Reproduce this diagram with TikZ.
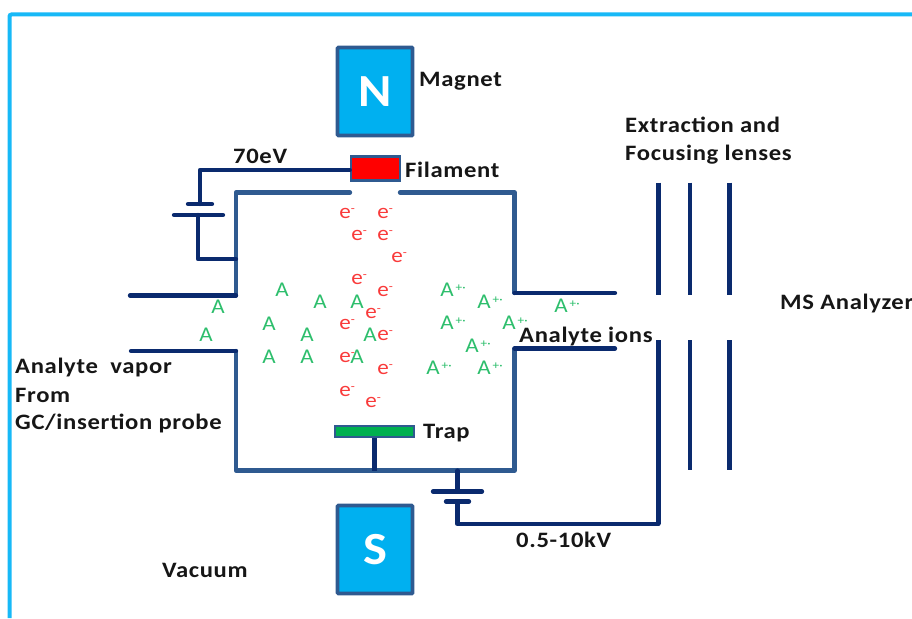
\documentclass[tikz,border=0pt]{standalone}
\usepackage{fontspec}
\setmainfont{Carlito}[LetterSpace=3,FakeStretch=1.12]
\newfontfamily\partfont{Carlito}[FakeStretch=1.1]
\definecolor{framecyan}{HTML}{17B9F7}
\definecolor{magnetblue}{HTML}{00B0F0}
\definecolor{wallblue}{HTML}{2F5A90}
\definecolor{wirenavy}{HTML}{0A2A6E}
\definecolor{trapgreen}{HTML}{00B050}
\definecolor{iongreen}{HTML}{2DBE6C}
\definecolor{elecred}{HTML}{F93A3A}
\definecolor{labelblack}{HTML}{161616}
\tikzset{
  lbl/.style={font=\fontsize{22}{26}\selectfont\bfseries,text=labelblack,anchor=west,inner sep=0pt,align=left},
  magnetbox/.style={draw=wallblue,line width=3.6pt,fill=magnetblue,rounded corners=0.8pt,inner sep=0pt,text=white,font=\partfont\fontsize{46}{46}\selectfont\bfseries},
  platebox/.style={draw=wallblue,line width=2.6pt,inner sep=0pt},
  wall/.style={draw=wallblue,line width=4.3pt,line cap=round,line join=round},
  wire/.style={draw=wirenavy,line width=4.3pt,line cap=round,line join=round},
  neutral/.style={text=iongreen,inner sep=0pt,font=\partfont\fontsize{21}{21}\selectfont},
  electron/.style={text=elecred,inner sep=0pt,font=\partfont\fontsize{21}{21}\selectfont},
}
\newcommand{\upsmall}[1]{\rlap{\raisebox{5.5pt}{\fontsize{12}{12}\selectfont #1}}}
\begin{document}
\begin{tikzpicture}[x=1pt,y=-1pt]
\useasboundingbox (0,0) rectangle (912,618);
% frame
\coordinate (fa) at (9.5,618); \coordinate (fb) at (9.5,14.5); \coordinate (fc) at (912,14.5);
\draw[framecyan,line width=4pt,rounded corners=2pt] (fa) -- (fb) -- (fc);
% magnets, filament, trap
\node[magnetbox,minimum width=75pt,minimum height=88pt] (north) at (375,91.5) {N};
\node[magnetbox,minimum width=75pt,minimum height=88pt] (south) at (375,549.5) {S};
\node[platebox,fill=red,minimum width=49pt,minimum height=23.5pt] (filament) at (375.5,168.5) {};
\node[platebox,fill=trapgreen,minimum width=79pt,minimum height=11pt] (trap) at (374.5,431.5) {};
% chamber
\coordinate (c1) at (350,192.5); \coordinate (c2) at (236,192.5); \coordinate (c3) at (236,295.5);
\coordinate (c4) at (236,351); \coordinate (c5) at (236,470.5); \coordinate (c6) at (514.5,470.5);
\coordinate (c7) at (514.5,348.5); \coordinate (c8) at (514.5,293); \coordinate (c9) at (514.5,192.5);
\coordinate (c10) at (400,192.5);
\draw[wall] (c1) -- (c2) -- (c3);
\draw[wall] (c4) -- (c5) -- (c6) -- (c7);
\draw[wall] (c8) -- (c9) -- (c10);
% ports
\coordinate (p1) at (130,295.5); \coordinate (p2) at (131,351); \coordinate (p3) at (615,293); \coordinate (p4) at (615,348.5);
\draw[wire] (p1) -- (c3);
\draw[wire] (p2) -- (c4);
\draw[wire] (c8) -- (p3);
\draw[wire] (c7) -- (p4);
% 70 eV supply
\coordinate (w1) at (200,170); \coordinate (w2) at (200,204); \coordinate (b1l) at (188,204); \coordinate (b1r) at (212,204);
\coordinate (b2l) at (174,215); \coordinate (b2r) at (223,215); \coordinate (w3) at (198,215); \coordinate (w4) at (198,259); \coordinate (w5) at (236,259);
\draw[wire] (filament.west |- w1) -- (w1) -- (w2);
\draw[wire] (b1l) -- (b1r);
\draw[wire] (b2l) -- (b2r);
\draw[wire] (w3) -- (w4) -- (w5);
% trap stem
\draw[wire,line cap=butt] (trap.south) -- (trap.south |- c5);
% lower supply
\coordinate (s1) at (457.5,470.5); \coordinate (s2) at (457.5,491.5); \coordinate (s3l) at (433,491.5); \coordinate (s3r) at (482,491.5);
\coordinate (s4l) at (446,501.5); \coordinate (s4r) at (469,501.5); \coordinate (s5) at (457.5,501.5); \coordinate (s6) at (457.5,524);
\coordinate (l1a) at (658.5,182.5); \coordinate (l1b) at (658.5,295); \coordinate (l1c) at (658.5,340); \coordinate (l1d) at (658.5,524);
\coordinate (l2a) at (690,182.5); \coordinate (l2b) at (690,295); \coordinate (l2c) at (690,340); \coordinate (l2d) at (690,470);
\coordinate (l3a) at (729.5,182.5); \coordinate (l3b) at (729.5,295); \coordinate (l3c) at (729.5,340); \coordinate (l3d) at (729.5,470);
\draw[wire] (s1) -- (s2);
\draw[wire] (s3l) -- (s3r);
\draw[wire] (s4l) -- (s4r);
\draw[wire] (s5) -- (s6) -- (l1d);
\draw[wire,line cap=butt] (l1d) -- (l1c);
\draw[wire,line cap=butt] (l1a) -- (l1b);
\draw[wire,line cap=butt] (l2a) -- (l2b);
\draw[wire,line cap=butt] (l2c) -- (l2d);
\draw[wire,line cap=butt] (l3a) -- (l3b);
\draw[wire,line cap=butt] (l3c) -- (l3d);
% particles
\foreach \x/\y [count=\i] in {345/213,383/213,357/235,383/235,397/257,357/279,383/291,371/313,345/324,383/335,345/357,383/369,345/391,371/402}
  \node[electron] (e\i) at (\x,\y) {e\upsmall{-}};
\foreach \x/\y [count=\i] in {218/307,282/290,320/302,357/302,206/335,269/324,307/335,370/335,269/357,307/357,357/357}
  \node[neutral] (a\i) at (\x,\y) {A};
\foreach \x/\y [count=\i] in {447/290,484/302,561/306,447/323,509/323,472/346,484/368,433/368}
  \node[neutral] (ion\i) at (\x,\y) {A\upsmall{\,+·}};
% labels
\node[lbl] (lmag) at (419,81) {Magnet};
\node[lbl] (lfil) at (405,170) {Filament};
\node[lbl] (l70) at (233,156) {70eV};
\node[lbl] (lext) at (625,125) {Extraction and};
\node[lbl] (lfoc) at (625,155) {Focusing lenses};
\node[lbl] (lms) at (780,304) {MS Analyzer};
\node[lbl] (lion) at (519,337) {Analyte ions};
\node[lbl] (lav) at (15,368) {Analyte\ \ vapor};
\node[lbl] (lfrom) at (15,395) {From};
\node[lbl] (lgc) at (15,423) {GC/insertion probe};
\node[lbl] (ltrap) at (423,433) {Trap};
\node[lbl] (lvac) at (162,570) {Vacuum};
\node[lbl] (lkv) at (516,540) {0.5-10kV};
\end{tikzpicture}
\end{document}
